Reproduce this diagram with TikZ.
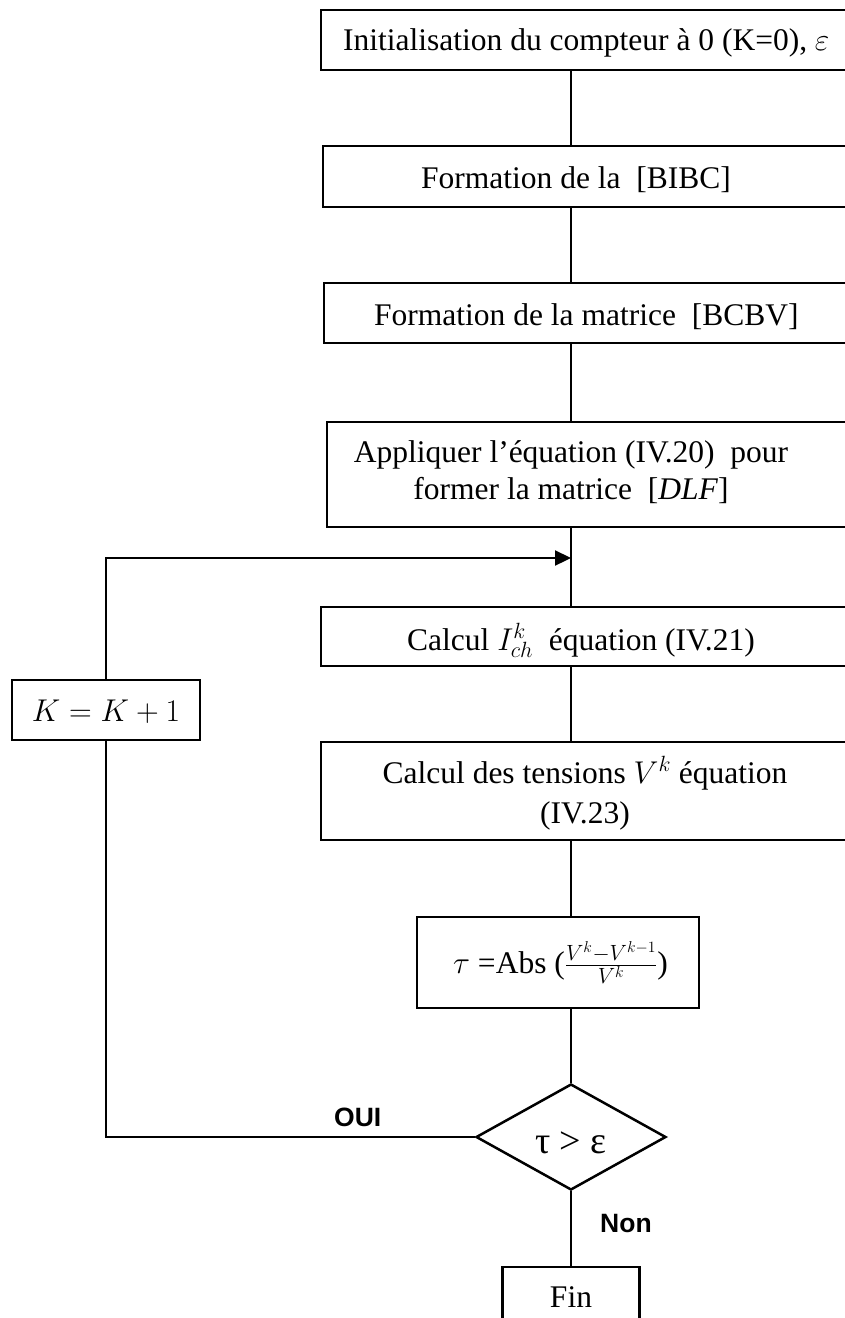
\RequirePackage{fix-cm}
\documentclass[tikz,border=0pt]{standalone}
\usepackage{fontspec}
\setmainfont{Liberation Serif}
\newfontfamily\labfont{Liberation Sans}
\usetikzlibrary{shapes.geometric,arrows.meta}
\begin{document}
\begin{tikzpicture}[x=1pt,y=-1pt,
  box/.style={draw, line width=2.5pt, rectangle, inner sep=0pt, outer sep=0pt},
  txt/.style={inner sep=0pt, font=\fontsize{31.5}{37}\selectfont, anchor=base west},
  conn/.style={line width=2.3pt},
  thinconn/.style={line width=1.8pt},
  lab/.style={inner sep=0pt, anchor=base west, font=\labfont\bfseries\fontsize{26.5}{30}\selectfont}]
\fill[white] (0,0) rectangle (844,1318);
\useasboundingbox (0,0) rectangle (844,1318);
\coordinate (cx) at (571,0);
\coordinate (j) at (571,558);
% boxes
\node[box, minimum width=549pt, minimum height=60pt] (b1) at (595.5,40) {};
\node[box, minimum width=547pt, minimum height=61pt] (b2) at (596.5,176.5) {};
\node[box, minimum width=546pt, minimum height=60pt] (b3) at (597,313) {};
\node[box, minimum width=543pt, minimum height=105pt] (b4) at (598.5,474.5) {};
\node[box, minimum width=549pt, minimum height=59pt] (b5) at (595.5,636.5) {};
\node[box, minimum width=549pt, minimum height=98pt] (b6) at (595.5,791) {};
\node[box, minimum width=282pt, minimum height=91pt] (b7) at (558,962.5) {};
\node[box, minimum width=188pt, minimum height=60pt] (k) at (106,710) {};
\node[box, minimum width=137pt, minimum height=73pt] (fin) at (571,1303.5) {};
\node[draw, diamond, line width=2.5pt, minimum width=190pt, minimum height=106pt, inner sep=0pt, aspect=1.8] (dia) at (571,1137) {};
% texts
\node[txt] (t1) at (343,50) {Initialisation du compteur à 0 (K=0), $\varepsilon$};
\node[txt] (t2) at (421,188) {Formation de la\ \ [BIBC]};
\node[txt] (t3) at (374,325) {Formation de la matrice\ \ [BCBV]};
\node[txt,anchor=base] (t4a) at (571,462) {Appliquer l’équation (IV.20)\ \ pour};
\node[txt,anchor=base] (t4b) at (571,499) {former la matrice\ \ [\textit{DLF}]};
\node[txt] (t5) at (407,650) {Calcul $I_{ch}^{k}$\ \ équation (IV.21)};
\node[txt,anchor=base] (t6a) at (585,783) {Calcul des tensions $V^{k}$ équation};
\node[txt,anchor=base] (t6b) at (585,823) {(IV.23)};
\node[txt] (t7) at (453,973) {$\tau$ =Abs ($\frac{V^{k}-V^{k-1}}{V^{k}}$)};
\node[txt,anchor=base,font=\fontsize{38}{42}\selectfont] (td) at (571,1153) {τ > ε};
\node[txt,anchor=base] (tk) at (106,721) {$K=K+1$};
\node[txt,anchor=base] (tf) at (571,1307) {Fin};
\node[lab] (oui) at (334,1126) {OUI};
\node[lab] (non) at (600,1232) {Non};
% connectors
\draw[conn] (b1.south -| cx) -- (b2.north -| cx);
\draw[conn] (b2.south -| cx) -- (b3.north -| cx);
\draw[conn] (b3.south -| cx) -- (b4.north -| cx);
\draw[conn] (b4.south -| cx) -- (b5.north -| cx);
\draw[conn] (b5.south -| cx) -- (b6.north -| cx);
\draw[conn] (b6.south -| cx) -- (b7.north -| cx);
\draw[conn] (b7.south -| cx) -- (dia.north);
\draw[conn] (dia.south) -- (fin.north);
\draw[thinconn] (dia.west) -| (k.south);
\draw[conn,-{Triangle[length=16pt,width=15pt]}] (k.north) |- (j);
\end{tikzpicture}
\end{document}
